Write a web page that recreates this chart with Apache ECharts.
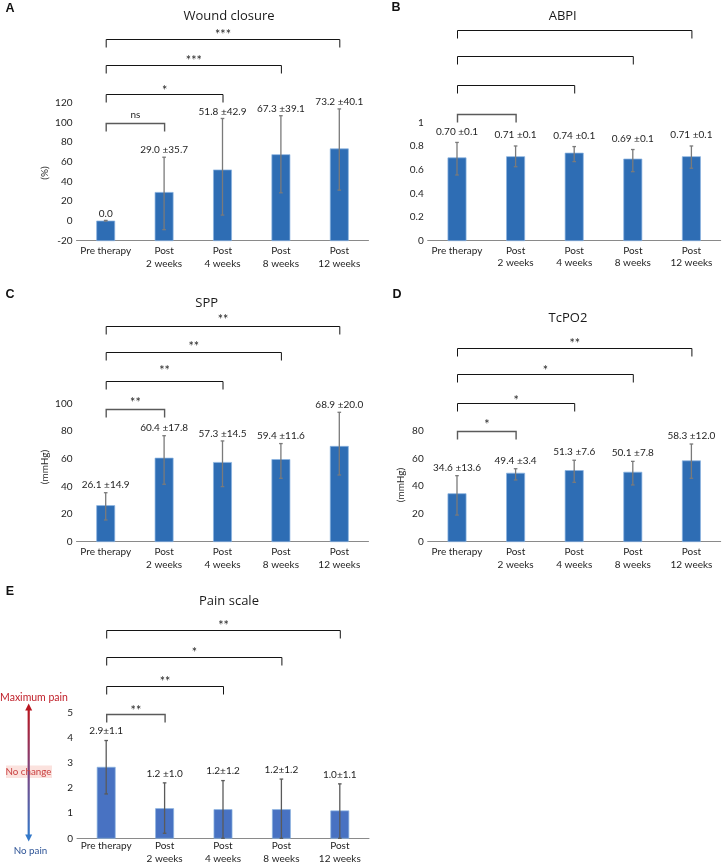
<!DOCTYPE html>
<html><head><meta charset="utf-8">
<script src="https://cdn.jsdelivr.net/npm/echarts@6/dist/echarts.min.js"></script>
<style>html,body{margin:0;padding:0;background:#fff}#c{width:722px;height:865px}</style>
</head><body><div id="c"></div>
<script>
// ---------- DATA ----------
const categories = ['Pre therapy', 'Post\n2 weeks', 'Post\n4 weeks', 'Post\n8 weeks', 'Post\n12 weeks'];
const bracketPairs = [[0, 1], [0, 2], [0, 3], [0, 4]];

// A: Wound closure (%)
const woundMean = [0, 29.0, 51.8, 67.3, 73.2];
const woundErrLow = [0, -8.8, 6, 28.6, 31.3];
const woundErrHigh = [0.6, 64.7, 104, 106.8, 113.7];
const woundLabels = ['0.0', '29.0 ±35.7', '51.8 ±42.9', '67.3 ±39.1', '73.2 ±40.1'];
const woundSig = ['ns', '*', '***', '***'];
const woundTicks = [-20, 0, 20, 40, 60, 80, 100, 120];

// B: ABPI
const abpiMean = [0.70, 0.71, 0.74, 0.69, 0.71];
const abpiErrLow = [0.555, 0.625, 0.668, 0.583, 0.612];
const abpiErrHigh = [0.83, 0.80, 0.795, 0.77, 0.80];
const abpiLabels = ['0.70 ±0.1', '0.71 ±0.1', '0.74 ±0.1', '0.69 ±0.1', '0.71 ±0.1'];
const abpiSig = ['', '', '', ''];
const abpiTicks = [0, 0.2, 0.4, 0.6, 0.8, 1];
const abpiTickLabels = ['0', '0.2', '0.4', '0.6', '0.8', '1'];

// C: SPP (mmHg)
const sppMean = [26.1, 60.4, 57.3, 59.4, 68.9];
const sppErrLow = [15.7, 41.5, 39.8, 45.8, 48.2];
const sppErrHigh = [35.4, 76.6, 72.8, 70.9, 93.5];
const sppLabels = ['26.1 ±14.9', '60.4 ±17.8', '57.3 ±14.5', '59.4 ±11.6', '68.9 ±20.0'];
const sppSig = ['**', '**', '**', '**'];
const sppTicks = [0, 20, 40, 60, 80, 100];

// D: TcPO2 (mmHg)
const tcpo2Mean = [34.6, 49.4, 51.3, 50.1, 58.3];
const tcpo2ErrLow = [19.2, 44.5, 42.8, 40.9, 45.7];
const tcpo2ErrHigh = [47.6, 52.6, 58.7, 57.9, 70.4];
const tcpo2Labels = ['34.6 ±13.6', '49.4 ±3.4', '51.3 ±7.6', '50.1 ±7.8', '58.3 ±12.0'];
const tcpo2Sig = ['*', '*', '*', '**'];
const tcpo2Ticks = [0, 20, 40, 60, 80];

// E: Pain scale
const painMean = [2.82, 1.18, 1.14, 1.14, 1.09];
const painErrLow = [1.76, 0.2, 0, 0, 0];
const painErrHigh = [3.88, 2.2, 2.29, 2.35, 2.16];
const painLabels = ['2.9±1.1', '1.2 ±1.0', '1.2±1.2', '1.2±1.2', '1.0±1.1'];
const painSig = ['**', '**', '*', '**'];
const painTicks = [0, 1, 2, 3, 4, 5];

// ---------- LAYOUT ----------
const FONT = 'Lato';
const TXT = '#1e1e1e';
const panels = [
  { letter: 'A', letterXY: [10, 9], title: 'Wound closure', titleXY: [229, 16],
    mean: woundMean, lo: woundErrLow, hi: woundErrHigh, labels: woundLabels, sig: woundSig,
    ticks: woundTicks, tickLabels: null,
    grid: { left: 76.5, top: 102.7, width: 292, height: 138 },
    yName: '(%)', yNameXY: [45, 173], labelOff: 7, xMargin: 4,
    bracketY: [122.7, 94.3, 65, 39], starY: [115, 87.7, 58.3, 32.3],
    barColor: '#2E6DB4', errColor: '#7a7a7a' },
  { letter: 'B', letterXY: [396, 8], title: 'ABPI', titleXY: [562.7, 16],
    mean: abpiMean, lo: abpiErrLow, hi: abpiErrHigh, labels: abpiLabels, sig: abpiSig,
    ticks: abpiTicks, tickLabels: abpiTickLabels,
    grid: { left: 427.7, top: 122.3, width: 293, height: 118.4 },
    yName: '', yNameXY: [0, 0], labelOff: 11, xMargin: 3.5,
    bracketY: [114, 85, 56, 30], starY: [106, 77, 48, 22],
    barColor: '#2E6DB4', errColor: '#7a7a7a' },
  { letter: 'C', letterXY: [10, 295], title: 'SPP', titleXY: [206.7, 303.5],
    mean: sppMean, lo: sppErrLow, hi: sppErrHigh, labels: sppLabels, sig: sppSig,
    ticks: sppTicks, tickLabels: null,
    grid: { left: 76.5, top: 403.3, width: 292, height: 138.4 },
    yName: '(mmHg)', yNameXY: [45, 467], labelOff: 7.5, xMargin: 4,
    bracketY: [409, 380.7, 351.7, 325.7], starY: [400, 368.3, 344.3, 317.3],
    barColor: '#2E6DB4', errColor: '#7a7a7a' },
  { letter: 'D', letterXY: [397, 295], title: 'TcPO2', titleXY: [568, 318.5],
    mean: tcpo2Mean, lo: tcpo2ErrLow, hi: tcpo2ErrHigh, labels: tcpo2Labels, sig: tcpo2Sig,
    ticks: tcpo2Ticks, tickLabels: null,
    grid: { left: 427.7, top: 430.7, width: 293, height: 111 },
    yName: '(mmHg)', yNameXY: [401, 485], labelOff: 8.3, xMargin: 4,
    bracketY: [431, 402.7, 374.3, 347.7], starY: [421.7, 397.7, 367.7, 341],
    barColor: '#2E6DB4', errColor: '#7a7a7a' },
  { letter: 'E', letterXY: [10, 592], title: 'Pain scale', titleXY: [229, 601],
    mean: painMean, lo: painErrLow, hi: painErrHigh, labels: painLabels, sig: painSig,
    ticks: painTicks, tickLabels: null,
    grid: { left: 77, top: 712.3, width: 292, height: 127.7 },
    yName: '', yNameXY: [0, 0], labelOff: 9.5, xMargin: 1.5,
    bracketY: [714, 685.7, 656.7, 630], starY: [707.7, 679.3, 650, 623.3],
    barColor: '#4872C2', errColor: '#5a5a5a' }
];

// ---------- BUILD ----------
const grids = [], xAxes = [], yAxes = [], series = [], graphics = [];

panels.forEach((p, gi) => {
  const yMin = p.ticks[0], yMax = p.ticks[p.ticks.length - 1];
  const step = p.ticks[1] - p.ticks[0];
  grids.push(Object.assign({ containLabel: false }, p.grid));
  xAxes.push({
    type: 'category', gridIndex: gi, data: categories, boundaryGap: true,
    axisLine: { show: true, onZero: false, lineStyle: { color: '#8a8a8a', width: 1 } },
    axisTick: { show: false }, splitLine: { show: false },
    axisLabel: { interval: 0, margin: p.xMargin, fontFamily: FONT, fontSize: 10, color: TXT, lineHeight: 12.6 }
  });
  yAxes.push({
    type: 'value', gridIndex: gi, min: yMin, max: yMax, interval: step,
    axisLine: { show: false }, axisTick: { show: false }, splitLine: { show: false },
    axisLabel: {
      margin: 4, fontFamily: FONT, fontSize: 10, color: TXT,
      formatter: v => {
        if (p.tickLabels) {
          let k = 0, best = Infinity;
          p.ticks.forEach((t, j) => { const d = Math.abs(t - v); if (d < best) { best = d; k = j; } });
          return p.tickLabels[k];
        }
        return String(Math.round(v));
      }
    }
  });

  // Bars (drawn from the axis minimum, as in the source)
  series.push({
    type: 'custom', xAxisIndex: gi, yAxisIndex: gi, silent: true, z: 2,
    data: p.mean.map((v, i) => [i, v]),
    encode: { x: 0, y: 1 },
    renderItem: (params, api) => {
      const i = api.value(0), v = api.value(1);
      const top = api.coord([i, v]);
      const base = api.coord([i, yMin]);
      const w = api.size([1, 0])[0] * 0.31;
      return {
        type: 'rect',
        shape: { x: top[0] - w / 2, y: top[1], width: w, height: base[1] - top[1] },
        style: { fill: p.barColor, stroke: 'rgba(140,180,225,0.9)', lineWidth: 0.8 }
      };
    }
  });

  // Error bars + value labels
  series.push({
    type: 'custom', xAxisIndex: gi, yAxisIndex: gi, silent: true, z: 3,
    data: p.lo.map((l, i) => [i, l, p.hi[i]]),
    encode: { x: 0, y: [1, 2] },
    renderItem: (params, api) => {
      const i = api.value(0);
      const a = api.coord([i, api.value(1)]);
      const b = api.coord([i, api.value(2)]);
      const cap = 1.8;
      const st = { stroke: p.errColor, lineWidth: 1.3 };
      return {
        type: 'group',
        children: [
          { type: 'line', shape: { x1: a[0], y1: a[1], x2: b[0], y2: b[1] }, style: st },
          { type: 'line', shape: { x1: b[0] - cap, y1: b[1], x2: b[0] + cap, y2: b[1] }, style: st },
          { type: 'line', shape: { x1: a[0] - cap, y1: a[1], x2: a[0] + cap, y2: a[1] }, style: st },
          { type: 'text', x: b[0], y: b[1] - p.labelOff,
            style: { text: p.labels[params.dataIndex], fill: TXT, font: '10px ' + FONT,
                     align: 'center', verticalAlign: 'middle', textAlign: 'center', textVerticalAlign: 'middle' } }
        ]
      };
    }
  });

  // Significance brackets
  series.push({
    type: 'custom', xAxisIndex: gi, yAxisIndex: gi, silent: true, z: 4,
    data: bracketPairs.map(pr => [pr[0], yMin, pr[1]]),
    encode: { x: 0, y: 1 },
    renderItem: (params, api) => {
      const k = params.dataIndex;
      const x1 = api.coord([api.value(0), yMin])[0] + 0.5;
      const x2 = api.coord([api.value(2), yMin])[0] + 0.5;
      const y = Math.round(p.bracketY[k]) + 0.5;
      const leg = 8;
      const first = k === 0;
      const s = p.sig[k];
      const isStar = s.indexOf('*') >= 0;
      return {
        type: 'group',
        children: [
          { type: 'polyline', shape: { points: [[x1, y + leg], [x1, y], [x2, y], [x2, y + leg]] },
            style: { stroke: first ? '#5a5a5a' : '#141414', lineWidth: first ? 1.4 : 1, fill: null } },
          { type: 'text', x: (x1 + x2) / 2, y: p.starY[k] + (isStar ? 3 : 0),
            style: { text: s, fill: TXT, font: (isStar ? '12.5px ' : '10px ') + FONT,
                     align: 'center', verticalAlign: 'middle', textAlign: 'center', textVerticalAlign: 'middle' } }
        ]
      };
    }
  });

  // Panel letter, title, y axis name
  graphics.push({ type: 'text', x: p.letterXY[0], y: p.letterXY[1],
    style: { text: p.letter, font: 'bold 12.5px "Liberation Sans"', fill: '#111', textAlign: 'center', textVerticalAlign: 'middle' } });
  graphics.push({ type: 'text', x: p.titleXY[0], y: p.titleXY[1],
    style: { text: p.title, font: '13px "Open Sans"', fill: '#1a1a1a', textAlign: 'center', textVerticalAlign: 'middle' } });
  if (p.yName) {
    graphics.push({ type: 'text', x: p.yNameXY[0], y: p.yNameXY[1], rotation: Math.PI / 2,
      style: { text: p.yName, font: '10px ' + FONT, fill: TXT, textAlign: 'center', textVerticalAlign: 'middle' } });
  }
});

// Pain scale side annotation
graphics.push(
  { type: 'rect', shape: { x: 6, y: 765.5, width: 46, height: 12.5 }, style: { fill: '#FBE2DE' } },
  { type: 'rect', shape: { x: 27.6, y: 709, width: 2.2, height: 127 },
    style: { fill: { type: 'linear', x: 0, y: 0, x2: 0, y2: 1,
      colorStops: [{ offset: 0, color: '#B8151F' }, { offset: 0.5, color: '#7C4682' }, { offset: 1, color: '#3479C9' }] } } },
  { type: 'polygon', shape: { points: [[28.7, 703.5], [25.2, 710.5], [32.2, 710.5]] }, style: { fill: '#B8151F' } },
  { type: 'polygon', shape: { points: [[28.7, 841.5], [25.2, 834.5], [32.2, 834.5]] }, style: { fill: '#3479C9' } },
  { type: 'text', x: 34, y: 697.5, style: { text: 'Maximum pain', font: '10.5px ' + FONT, fill: '#C0202A', textAlign: 'center', textVerticalAlign: 'middle' } },
  { type: 'text', x: 28.5, y: 772, style: { text: 'No change', font: '9.8px ' + FONT, fill: '#C94040', textAlign: 'center', textVerticalAlign: 'middle' } },
  { type: 'text', x: 30.5, y: 851, style: { text: 'No pain', font: '9.8px ' + FONT, fill: '#2F5597', textAlign: 'center', textVerticalAlign: 'middle' } }
);

const chart = echarts.init(document.getElementById('c'), null, { renderer: 'canvas', width: 722, height: 865 });
chart.setOption({
  animation: false,
  backgroundColor: '#ffffff',
  grid: grids, xAxis: xAxes, yAxis: yAxes, series: series,
  graphic: graphics
});
</script>
</body></html>
